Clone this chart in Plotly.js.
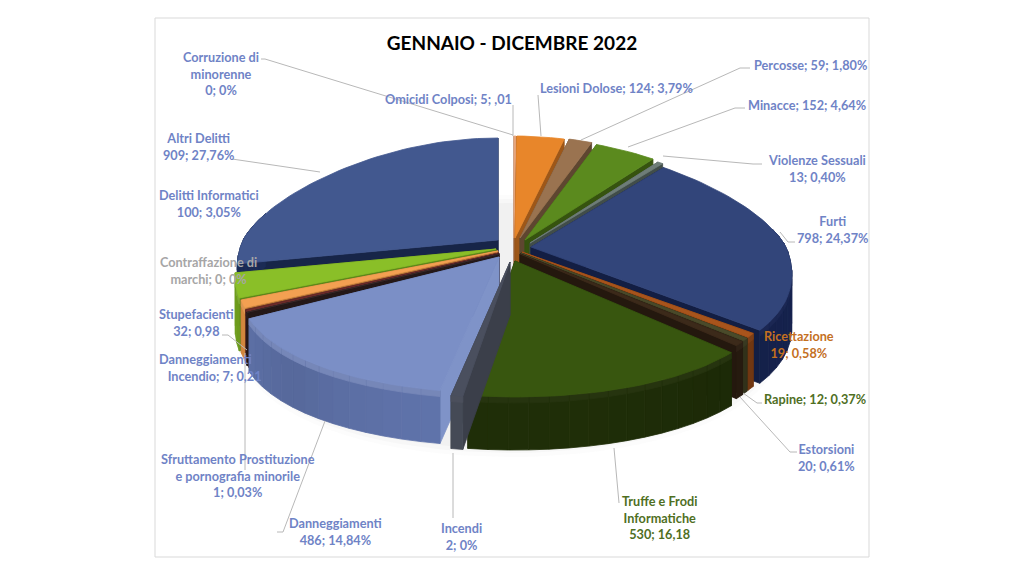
<!DOCTYPE html>
<html><head><meta charset="utf-8">
<script src="https://cdn.plot.ly/plotly-3.0.1.min.js"></script>
<style>html,body{margin:0;padding:0;background:#fff}#c{width:1024px;height:576px}</style>
</head><body><div id="c"></div>
<script>
// ---- data ----
const categories = ["Omicidi Colposi","Lesioni Dolose","Percosse","Minacce","Violenze Sessuali","Furti","Ricettazione","Rapine","Estorsioni","Truffe e Frodi Informatiche","Incendi","Danneggiamenti","Sfruttamento Prostituzione e pornografia minorile","Danneggiamenti Incendio","Stupefacienti","Contraffazione di marchi","Delitti Informatici","Altri Delitti","Corruzione di minorenne"];
const values = [5,124,59,152,13,798,19,12,20,530,2,486,1,7,32,0,100,909,0];
const labelTexts = ["Omicidi Colposi; 5; ,01","Lesioni Dolose; 124; 3,79%","Percosse; 59; 1,80%","Minacce; 152; 4,64%","Violenze Sessuali<br>13; 0,40%","Furti<br>798; 24,37%","Ricettazione<br>19; 0,58%","Rapine; 12; 0,37%","Estorsioni<br>20; 0,61%","Truffe e Frodi<br>Informatiche<br>530; 16,18","Incendi<br>2; 0%","Danneggiamenti<br>486; 14,84%","Sfruttamento Prostituzione<br>e pornografia minorile<br>1; 0,03%","Danneggiamenti&#160;&#160;&#160;&#160;&#160;&#160;<br>Incendio; 7; 0,21","Stupefacienti<br>32; 0,98","Contraffazione di<br>marchi; 0; 0%","Delitti Informatici<br>100; 3,05%","Altri Delitti<br>909; 27,76%","Corruzione di<br>minorenne<br>0; 0%"];
// ---- styling ----
const topColors = ["#e8a67c","#e8862a","#9a7350","#5b8a1e","#6e7d78","#32457a","#a8541c","#4a4a2a","#3c2a1a","#38560f","#4a4f5e","#7b8fc6","#3a2a2a","#6b2b2a","#f3a052","#a6a6a6","#8abf28","#42588f","#42588f"];
const wallColors = ["#b9825f","#b9661d","#6f5238","#3f6212","#4d5a56","#16234f","#7a3b12","#35351c","#2a1c10","#1f2e08","#454a57","#6074ac","#2a1c1c","#4c1c1c","#d98a40","#888888","#6f9f1e","#1b2b55","#1b2b55"];
const bevelLift = [1.1,1.1,1.1,1.1,1.1,1.02,1.02,1.02,1.02,1.03,1.03,1.14,1.02,1.02,1.1,1.1,1.1,1.02,1.02];
const labelColors = ["#6f83c6","#6f83c6","#6f83c6","#6f83c6","#6f83c6","#6f83c6","#c4701f","#4f6f1f","#6f83c6","#4f6f1f","#6f83c6","#6f83c6","#6f83c6","#6f83c6","#6f83c6","#a6a6a6","#6f83c6","#6f83c6","#6f83c6"];
// exploded apex of each slice
const apexX = [514,515,520,525,530,531,522,521,520,515,510,499,499,499,498,498,496,498,497];
const apexY = [238,238,238,240,243,247,252,253,254,261,262,257,254,253,251,251,249,240,239];
const trimStart = [0,0,0,0,0,0,0,0,0,0,-2,0,0,-1.5,0,0,0,0,0];
const trimEnd   = [0,0,0,0,0,1,0,0,0,-2,0,-1.5,0,0,0,0,0,0,0];
const labelX = [448,616,810,807,817,832,799,815,826,659,461,335,238,214,196,208,209,198,221];
const labelY = [99,88,65,105,168,229,344,399,457,517,536,531,475,367,322,270,203,146,73];
const leaders = [
 [[513,105],[513,136]],
 [[538,95],[541,136]],
 [[750,68],[740,68],[581,140]],
 [[745,108],[735,108],[628,147]],
 [[762,164],[753,164],[663,156]],
 [[795,242],[788,242],[780,232]],
 [[762,403],[757,403],[743,393]],
 [[797,452],[790,452],[740,397]],
 [[619,503],[614,448]],
 [[453,518],[453,453]],
 [[277,532],[283,532],[325,421]],
 [[245,470],[245,353]],
 [[222,335],[228,335],[247,350]],
 [[232,159],[320,172]],
 [[261,59],[265,59],[513,135]]
];
const RX=255, RYT=102, RYB=136, PERSP=0.22, DEPTH=53;
const rad=d=>d*Math.PI/180;
function rim(ax,ay,deg){const s=Math.sin(rad(deg)),c=Math.cos(rad(deg));
  return [ax+RX*s*(1-PERSP*c), ay-(c>0?RYT:RYB)*c];}
function mix(hex,f){const n=parseInt(hex.slice(1),16);let r=n>>16,g=(n>>8)&255,b=n&255;
  const m=v=>Math.round(f<1?v*f:v+(255-v)*(f-1));return `rgb(${m(r)},${m(g)},${m(b)})`;}
function poly(pts,color){return {type:'scatter',mode:'lines',x:pts.map(p=>p[0]).concat(pts[0][0]),y:pts.map(p=>p[1]).concat(pts[0][1]),
  fill:'toself',fillcolor:color,line:{color:color,width:0.8},hoverinfo:'skip',showlegend:false};}

const total=values.reduce((a,b)=>a+b,0);
let cum=0;const slices=values.map((v,i)=>{const a=cum/total*360;cum+=v;const b=cum/total*360;
  return {i,v,a:a+trimStart[i],b:b+trimEnd[i],mid:(a+b)/2};});
const traces=[];
// soft shadow under the pie
[[12,0.02],[8,0.03],[4,0.04]].forEach(([g,al])=>{
  const pts=[];for(let d=0;d<360;d+=4){const q=rim(510,256+DEPTH,d);const s=Math.sin(rad(d)),c=Math.cos(rad(d));pts.push([q[0]+g*s,q[1]-g*c]);}
  traces.push(poly(pts,`rgba(90,90,90,${al})`));traces[traces.length-1].line.width=0;});
const order=slices.filter(s=>s.v>0).sort((p,q)=>Math.cos(rad(q.mid))-Math.cos(rad(p.mid)));
order.forEach(s=>{
  const ax=apexX[s.i],ay=apexY[s.i],top=topColors[s.i],wall=wallColors[s.i];
  const pa=rim(ax,ay,s.a),pb=rim(ax,ay,s.b);
  // cut faces
  traces.push(poly([[ax,ay],pb,[pb[0],pb[1]+DEPTH],[ax,ay+DEPTH]],mix(wall,0.85)));
  traces.push(poly([[ax,ay],pa,[pa[0],pa[1]+DEPTH],[ax,ay+DEPTH]],s.i===11?'#7f93c8':mix(wall,0.85)));
  // outer wall, shaded in narrow bands
  const lo=Math.max(s.a,80),hi=Math.min(s.b,285);
  if(hi>lo){const steps=Math.max(1,Math.ceil((hi-lo)/4));
    for(let k=0;k<steps;k++){const d1=lo+(hi-lo)*k/steps,d2=lo+(hi-lo)*(k+1)/steps;
      const p1=rim(ax,ay,d1),p2=rim(ax,ay,d2);
      const shade=0.9+0.1*Math.abs(Math.cos(rad((d1+d2)/2)*2));
      traces.push(poly([p1,p2,[p2[0],p2[1]+DEPTH],[p1[0],p1[1]+DEPTH]],mix(wall,shade)));
      traces.push(poly([p1,p2,[p2[0],p2[1]+6],[p1[0],p1[1]+6]],mix(wall,bevelLift[s.i])));
    }}
  // top face
  const pts=[[ax,ay]];const n=Math.max(2,Math.ceil((s.b-s.a)/2));
  for(let k=0;k<=n;k++)pts.push(rim(ax,ay,s.a+(s.b-s.a)*k/n));
  traces.push(poly(pts,top));
});
// leader lines
leaders.forEach(l=>traces.push({type:'scatter',mode:'lines',x:l.map(p=>p[0]),y:l.map(p=>p[1]),line:{color:'#b8b8b8',width:1},hoverinfo:'skip',showlegend:false}));

const annotations=labelTexts.map((t,i)=>({x:labelX[i],y:labelY[i],xref:'x',yref:'y',text:t,showarrow:false,align:'center',xanchor:'center',yanchor:'middle',
  font:{family:'Lato, "Open Sans", sans-serif',size:12.7,color:labelColors[i],weight:700}}));

Plotly.newPlot('c',traces,{
  width:1024,height:576,margin:{l:0,r:0,t:0,b:0},paper_bgcolor:'#fff',plot_bgcolor:'#fff',showlegend:false,
  title:{text:'GENNAIO - DICEMBRE 2022',x:0.5,xref:'paper',xanchor:'center',y:1-43/576,yref:'paper',yanchor:'middle',font:{family:'Lato, sans-serif',size:19,color:'#000',weight:700}},
  xaxis:{range:[0,1024],visible:false,fixedrange:true},
  yaxis:{range:[576,0],visible:false,fixedrange:true},
  shapes:[{type:'rect',xref:'x',yref:'y',x0:155,x1:869,y0:18,y1:557,line:{color:'#d9d9d9',width:1},fillcolor:'rgba(0,0,0,0)',layer:'below'}],
  annotations
},{displayModeBar:false,staticPlot:true});
</script></body></html>
